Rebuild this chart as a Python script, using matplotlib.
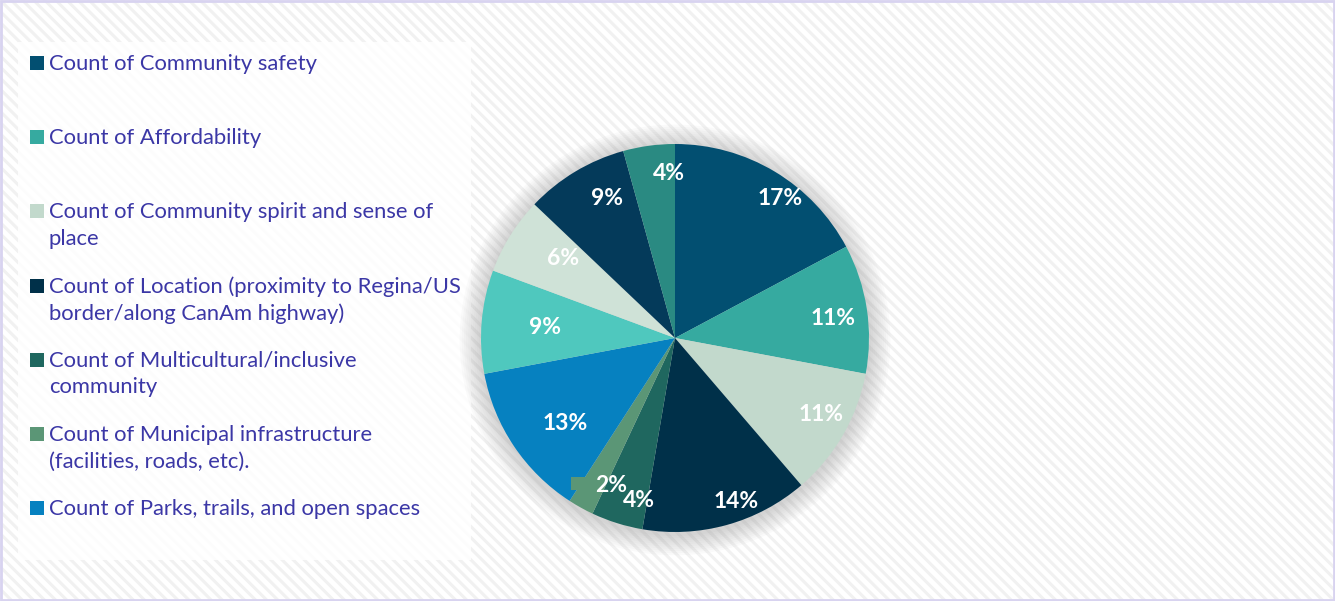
import numpy as np
import matplotlib
matplotlib.use("Agg")
import matplotlib.pyplot as plt
from matplotlib.patches import Rectangle, Circle

# slice values (counts), clockwise from 12 o'clock
categories = [
    "Count of Community safety",
    "Count of Affordability",
    "Count of Community spirit and sense of\nplace",
    "Count of Location (proximity to Regina/US\nborder/along CanAm highway)",
    "Count of Multicultural/inclusive\ncommunity",
    "Count of Municipal infrastructure\n(facilities, roads, etc).",
    "Count of Parks, trails, and open spaces",
    "Count of Category 8",
    "Count of Category 9",
    "Count of Category 10",
    "Count of Category 11",
]
counts = [16, 10, 10, 13, 4, 2, 12, 8, 6, 8, 4]
colors = ["#024F71", "#36AAA0", "#C2D9CC", "#003049", "#1F675F", "#5B9676",
          "#0681C0", "#4FC8BE", "#CFE2D7", "#043A5A", "#2A8A82"]
# percentage label placement: fraction of radius, angle shift from slice centre (deg)
label_r = [0.90, 0.82, 0.85, 0.90, 0.86, 0.83, 0.72, 0.67, 0.71, 0.80, 0.85]
label_dang = [-6, -1.5, 2.5, 5, 5, 5.5, 4, 0, -3.5, -5, -5.5]
n_legend = 7

W, H = 1335, 601
plt.rcParams["hatch.linewidth"] = 2.2
fig = plt.figure(figsize=(W / 100, H / 100), dpi=100)
fig.patch.set_facecolor("white")

# hatched background
bg = fig.add_axes([0, 0, 1, 1])
bg.set_xlim(0, W); bg.set_ylim(H, 0); bg.axis("off")
bg.add_patch(Rectangle((0, 0), W, H, facecolor="white", edgecolor="#F1F1F1",
                       hatch="\\\\\\", lw=0))
bg.add_patch(Rectangle((1, 1), W - 2, H - 2, fill=False, edgecolor="#D8D3F0", lw=2))
# legend panel
bg.add_patch(Rectangle((18, 42), 453, 518, facecolor="white", edgecolor="none", alpha=0.85))

font = ["Lato", "DejaVu Sans"]
txt_color = "#3B37A6"
for i in range(n_legend):
    y = 63 + i * 74.2
    bg.add_patch(Rectangle((30, y - 7), 14, 14, facecolor=colors[i], edgecolor="none"))
    bg.text(49, y - 9, categories[i], fontsize=15.8, color=txt_color, family=font,
            va="top", ha="left", linespacing=1.4)

# pie
cx, cy, R = 675, 338, 194
half = 260
ax = fig.add_axes([(cx - half) / W, (H - cy - half) / H, 2 * half / W, 2 * half / H])

wedges, _ = ax.pie(counts, colors=colors, startangle=90, counterclock=False,
                   radius=1, wedgeprops=dict(linewidth=0))
for w in wedges:
    w.set_zorder(2)
ax.set_xlim(-half / R, half / R); ax.set_ylim(-half / R, half / R)
ax.set_aspect("equal"); ax.axis("off")

# soft shadow
for k in range(10):
    ax.add_patch(Circle((0, -0.01), 1.0 + 0.011 * (10 - k), facecolor="#808080",
                        alpha=0.035, edgecolor="none", zorder=0))

total = sum(counts)
for i, (w, c, r, da) in enumerate(zip(wedges, counts, label_r, label_dang)):
    ang = np.deg2rad((w.theta1 + w.theta2) / 2 + da)
    lx, ly = r * np.cos(ang), r * np.sin(ang)
    ax.text(lx, ly, f"{round(100 * c / total)}%",
            ha="center", va="center", color="white", fontsize=16.5,
            fontweight="bold", family=font, zorder=4)
    if c == min(counts):
        # leftover leader stub for the smallest slice label
        ax.add_patch(Rectangle((lx - 40 / R, ly - 4 / R), 14 / R, 13 / R,
                               facecolor=colors[i], edgecolor="none", zorder=3))

fig.savefig("out.png", dpi=100)
